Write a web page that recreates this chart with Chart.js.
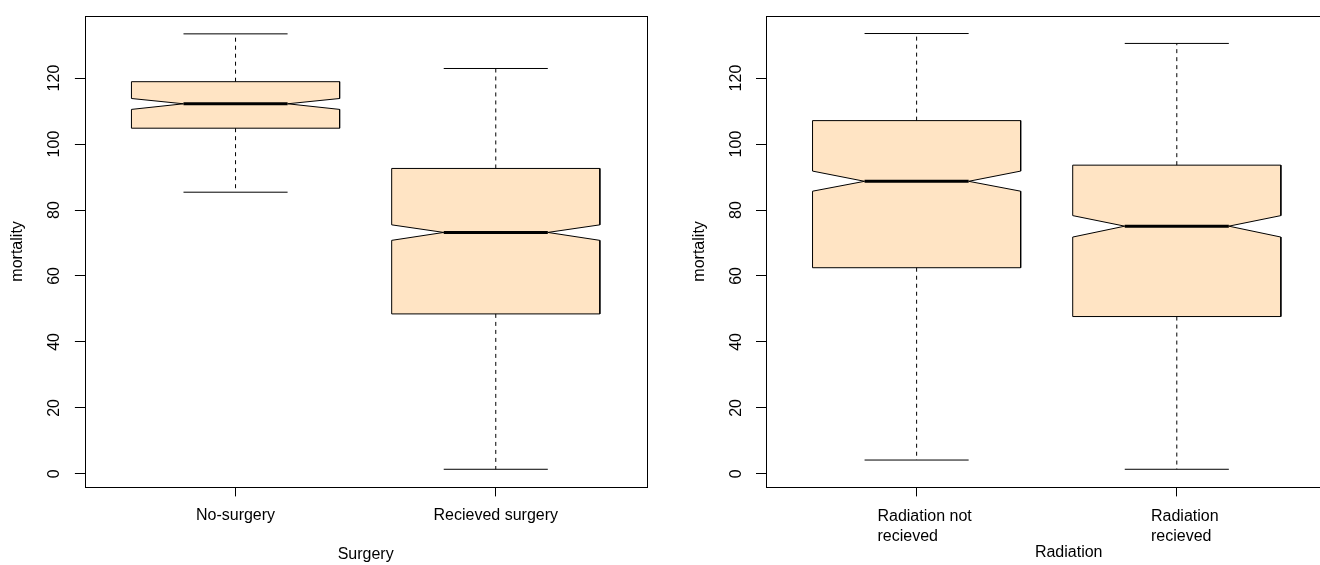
<!DOCTYPE html>
<html>
<head>
<meta charset="utf-8">
<script src="https://cdn.jsdelivr.net/npm/chart.js@4.4.1/dist/chart.umd.min.js"></script>
<style>
  html, body { margin: 0; padding: 0; background: #fff; overflow: hidden; width: 1320px; height: 565px; }
  #wrap { position: relative; width: 1320px; height: 565px; overflow: hidden; }
  #surgeryChart { position: absolute; left: 0; top: 0; }
  #radiationChart { position: absolute; left: 660px; top: 0; }
</style>
</head>
<body>
<div id="wrap">
  <canvas id="surgeryChart" width="660" height="565"></canvas>
  <canvas id="radiationChart" width="681" height="565"></canvas>
</div>
<script>
// ---- Mortality by surgery status ----
const surgeryGroups = ['No-surgery', 'Recieved surgery'];
const surgeryWhiskerLow = [85.4, 1.4];
const surgeryQ1 = [104.8, 48.5];
const surgeryMedian = [112.2, 73.2];
const surgeryQ3 = [118.9, 92.6];
const surgeryWhiskerHigh = [133.4, 122.9];
const surgeryNotchLow = [110.5, 70.8];
const surgeryNotchHigh = [113.8, 75.5];

// ---- Mortality by radiation status ----
const radiationGroups = [['Radiation not', 'recieved'], ['Radiation', 'recieved']];
const radiationWhiskerLow = [4.2, 1.4];
const radiationQ1 = [62.5, 47.7];
const radiationMedian = [88.7, 75.1];
const radiationQ3 = [107.1, 93.6];
const radiationWhiskerHigh = [133.5, 130.5];
const radiationNotchLow = [85.7, 71.8];
const radiationNotchHigh = [91.8, 78.3];

const yTicks = [0, 20, 40, 60, 80, 100, 120];
const yTitle = 'mortality';
const surgeryTitle = 'Surgery';
const radiationTitle = 'Radiation';

// ---- Styling ----
const FONT_FAMILY = '"Liberation Sans", Arial, Helvetica, sans-serif';
const FONT_SIZE = 16;
const LINE_H = FONT_SIZE * 1.2;
const BOX_FILL = '#FFE4C4';
const INK = '#000';
const BOX_WIDTH = 0.8;          // in x units
const CAP_HALF = 0.2;           // whisker cap half-width
const TICK_LEN = 9.7;
const X_LABEL_PAD = 10;
const Y_AXIS_WIDTH = 84.6;
const X_AXIS_HEIGHT = 78.3;

// Axis ranges extended by 4% of the data range on each side
function yRange(lows, highs) {
  const lo = Math.min(...lows), hi = Math.max(...highs);
  const pad = 0.04 * (hi - lo);
  return { min: lo - pad, max: hi + pad };
}
const yLim = yRange(
  [...surgeryWhiskerLow, ...radiationWhiskerLow],
  [...surgeryWhiskerHigh, ...radiationWhiskerHigh]
);
function xRange(n) {
  return { min: 0.5 - 0.04 * n, max: n + 0.5 + 0.04 * n };
}

// Builds the line datasets for a set of notched boxes
function boxDatasets(s) {
  const sets = [];
  const hw = BOX_WIDTH / 2, nw = BOX_WIDTH / 4;
  s.median.forEach((m, i) => {
    const c = i + 1;
    const q1 = s.q1[i], q3 = s.q3[i], nLo = s.notchLow[i], nHi = s.notchHigh[i];
    // notched box outline
    sets.push({
      data: [
        { x: c - hw, y: q1 }, { x: c - hw, y: nLo }, { x: c - nw, y: m },
        { x: c - hw, y: nHi }, { x: c - hw, y: q3 }, { x: c + hw, y: q3 },
        { x: c + hw, y: nHi }, { x: c + nw, y: m }, { x: c + hw, y: nLo },
        { x: c + hw, y: q1 }, { x: c - hw, y: q1 }
      ],
      showLine: true, fill: 'shape', backgroundColor: BOX_FILL,
      borderColor: INK, borderWidth: 1, order: 4
    });
    // dashed whiskers
    sets.push({
      data: [{ x: c, y: q3 }, { x: c, y: s.whiskerHigh[i] }],
      showLine: true, borderColor: INK, borderWidth: 1, borderDash: [4, 4], order: 3
    });
    sets.push({
      data: [{ x: c, y: q1 }, { x: c, y: s.whiskerLow[i] }],
      showLine: true, borderColor: INK, borderWidth: 1, borderDash: [4, 4], order: 3
    });
    // whisker caps
    sets.push({
      data: [{ x: c - CAP_HALF, y: s.whiskerHigh[i] }, { x: c + CAP_HALF, y: s.whiskerHigh[i] }],
      showLine: true, borderColor: INK, borderWidth: 1, order: 2
    });
    sets.push({
      data: [{ x: c - CAP_HALF, y: s.whiskerLow[i] }, { x: c + CAP_HALF, y: s.whiskerLow[i] }],
      showLine: true, borderColor: INK, borderWidth: 1, order: 2
    });
    // median bar
    sets.push({
      data: [{ x: c - nw, y: m }, { x: c + nw, y: m }],
      showLine: true, borderColor: INK, borderWidth: 3, borderCapStyle: 'butt', order: 1
    });
  });
  return sets;
}

// Box frame around the plotting region
const framePlugin = {
  id: 'frame',
  afterDraw(chart) {
    const { ctx, chartArea: a } = chart;
    ctx.save();
    ctx.strokeStyle = INK;
    ctx.lineWidth = 1;
    ctx.strokeRect(Math.round(a.left) + 0.5, Math.round(a.top) + 0.5,
      Math.round(a.right - a.left), Math.round(a.bottom - a.top));
    ctx.restore();
  }
};

// Two-line category labels and axis title for the radiation panel
const radiationLabelsPlugin = {
  id: 'radiationLabels',
  afterDraw(chart) {
    const ctx = chart.ctx, xs = chart.scales.x, a = chart.chartArea;
    ctx.save();
    ctx.font = FONT_SIZE + 'px ' + FONT_FAMILY;
    ctx.fillStyle = INK;
    ctx.textBaseline = 'middle';
    ctx.textAlign = 'left';
    const firstLine = xs.top + TICK_LEN + X_LABEL_PAD + LINE_H / 2 + 1;
    radiationGroups.forEach((lines, i) => {
      const px = xs.getPixelForValue(i + 1);
      const w = Math.max(...lines.map(l => ctx.measureText(l).width));
      lines.forEach((l, j) => ctx.fillText(l, px - w / 2 + 8, firstLine + j * LINE_H));
    });
    ctx.textAlign = 'center';
    ctx.fillText(radiationTitle, (a.left + a.right) / 2 + 22, chart.height - 12.3);
    ctx.restore();
  }
};

function makeChart(canvasId, groups, stats, opts) {
  const xr = xRange(groups.length);
  const font = { family: FONT_FAMILY, size: FONT_SIZE };
  return new Chart(document.getElementById(canvasId), {
    type: 'scatter',
    data: { datasets: boxDatasets(stats) },
    plugins: opts.plugins,
    options: {
      responsive: false,
      animation: false,
      devicePixelRatio: 1,
      layout: { padding: { left: opts.padLeft, right: 13.3, top: 13.3, bottom: 0 } },
      elements: { point: { radius: 0, hoverRadius: 0 }, line: { tension: 0 } },
      plugins: { legend: { display: false }, tooltip: { enabled: false } },
      events: [],
      scales: {
        x: {
          type: 'linear', min: xr.min, max: xr.max,
          afterBuildTicks: s => { s.ticks = groups.map((g, i) => ({ value: i + 1 })); },
          afterFit: s => { s.height = X_AXIS_HEIGHT; },
          border: { display: false },
          grid: { display: true, drawOnChartArea: false, drawTicks: true, tickLength: TICK_LEN, tickColor: INK, tickWidth: 1 },
          ticks: {
            display: opts.xTickLabels, autoSkip: false, maxRotation: 0, minRotation: 0,
            padding: X_LABEL_PAD, color: INK, font,
            callback: (v, i) => groups[i]
          },
          title: { display: !!opts.xTitle, text: opts.xTitle || '', color: INK, font, padding: { top: 0, bottom: 0.4 } }
        },
        y: {
          type: 'linear', min: yLim.min, max: yLim.max,
          afterBuildTicks: s => { s.ticks = yTicks.map(v => ({ value: v })); },
          afterFit: s => { s.width = Y_AXIS_WIDTH; },
          border: { display: false },
          grid: { display: true, drawOnChartArea: false, drawTicks: true, tickLength: TICK_LEN, tickColor: INK, tickWidth: 1 },
          ticks: {
            autoSkip: false, minRotation: 90, maxRotation: 90, crossAlign: 'center',
            padding: 6.5, color: INK, font,
            callback: v => String(v)
          },
          title: { display: true, text: yTitle, color: INK, font, padding: { top: 8.4, bottom: 0 } }
        }
      }
    }
  });
}

makeChart('surgeryChart', surgeryGroups, {
  whiskerLow: surgeryWhiskerLow, q1: surgeryQ1, median: surgeryMedian, q3: surgeryQ3,
  whiskerHigh: surgeryWhiskerHigh, notchLow: surgeryNotchLow, notchHigh: surgeryNotchHigh
}, { padLeft: 0, xTickLabels: true, xTitle: surgeryTitle, plugins: [framePlugin] });

makeChart('radiationChart', radiationGroups, {
  whiskerLow: radiationWhiskerLow, q1: radiationQ1, median: radiationMedian, q3: radiationQ3,
  whiskerHigh: radiationWhiskerHigh, notchLow: radiationNotchLow, notchHigh: radiationNotchHigh
}, { padLeft: 21.1, xTickLabels: false, xTitle: null, plugins: [framePlugin, radiationLabelsPlugin] });
</script>
</body>
</html>
